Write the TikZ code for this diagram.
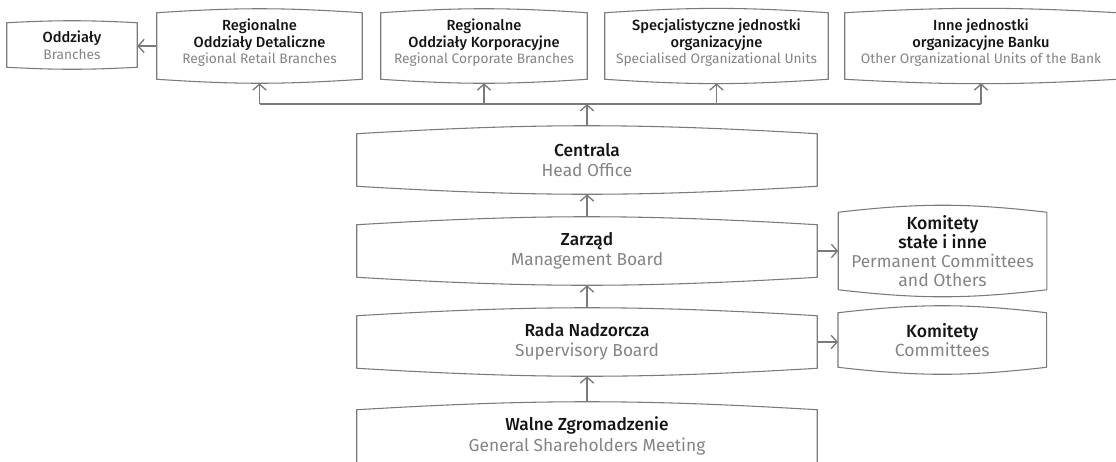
\documentclass[tikz,border=0pt]{standalone}
\usepackage{fontspec}
\setmainfont{Fira Sans Light}[BoldFont={Fira Sans Medium}]
\newfontfamily\regfont{Fira Sans}
\usetikzlibrary{arrows.meta,positioning}

\definecolor{linegray}{RGB}{122,122,122}
\definecolor{subgray}{RGB}{132,132,132}
\definecolor{titleblack}{RGB}{20,20,20}

\newlength{\pxu}
\setlength{\pxu}{0.75pt}

% box outline: straight sides, top and bottom bowed outwards
\newcommand{\bulgeoutline}[2][3.4]{%
  \draw[boxline] (#2.south west) -- (#2.north west) to[bend left=#1] (#2.north east)
    -- (#2.south east) to[bend left=#1] (#2.south west) -- cycle;}

\tikzset{
  boxline/.style={draw=linegray, line width=0.8pt, line join=round},
  conn/.style={draw=linegray, line width=1pt, -{Straight Barb[length=4.5pt, width=10pt]}},
  unit/.style={inner sep=0pt, align=center, text=titleblack},
  mainunit/.style={unit, minimum width=460\pxu, minimum height=52\pxu, font=\fontsize{13}{15.3}\selectfont},
  sideunit/.style={unit, minimum width=208\pxu, font=\fontsize{13.2}{14.4}\selectfont},
  topunit/.style={unit, minimum height=66\pxu, text depth=7pt, font=\fontsize{11}{12.6}\selectfont},
}

\newcommand{\en}[1]{{\regfont\color{subgray}#1}}
\newcommand{\ten}[1]{{\fontsize{10.3}{12.6}\selectfont\en{#1}}}

\begin{document}
\begin{tikzpicture}[x=0.75pt, y=-0.75pt]
  \useasboundingbox (0,0) rectangle (1116,461);

  % main column
  \node[mainunit] (walne) at (587,436) {\textbf{Walne Zgromadzenie}\\ \en{General Shareholders Meeting}};
  \node[mainunit] (rada) at (587,342) {\textbf{Rada Nadzorcza}\\ \en{Supervisory Board}};
  \node[mainunit] (zarzad) at (587,251) {\textbf{Zarząd}\\ \en{Management Board}};
  \node[mainunit] (centrala) at (587,160) {\textbf{Centrala}\\ \en{Head Office}};

  % committees on the right
  \node[sideunit, minimum height=77\pxu, right=21\pxu of zarzad] (komstale) {\textbf{Komitety}\\ \textbf{stałe i inne}\\ {\fontsize{12.9}{14.4}\selectfont\en{Permanent Committees}}\\ \en{and Others}};
  \node[sideunit, minimum height=54\pxu, anchor=west] (komitety) at (838,340) {\textbf{Komitety}\\ \en{Committees}};

  % top row
  \node[topunit, minimum width=130\pxu, minimum height=44\pxu, text depth=] (oddzialy) at (72,45) {\textbf{Oddziały}\\ \ten{Branches}};
  \node[topunit, minimum width=205\pxu] (retail) at (259.5,46) {\textbf{Regionalne}\\ \textbf{Oddziały Detaliczne}\\ \ten{Regional Retail Branches}};
  \node[topunit, minimum width=206\pxu] (corporate) at (484,46) {\textbf{Regionalne}\\ \textbf{Oddziały Korporacyjne}\\ \ten{Regional Corporate Branches}};
  \node[topunit, minimum width=223\pxu] (special) at (716.5,46) {\textbf{Specjalistyczne jednostki}\\ \textbf{organizacyjne}\\ \ten{Specialised Organizational Units}};
  \node[topunit, minimum width=272\pxu] (other) at (981,46) {\textbf{Inne jednostki}\\ \textbf{organizacyjne Banku}\\ \ten{Other Organizational Units of the Bank}};

  % outlines
  \bulgeoutline{rada}
  \bulgeoutline{zarzad}
  \bulgeoutline{centrala}
  \bulgeoutline[6.6]{komstale}
  \bulgeoutline[6.6]{komitety}
  \bulgeoutline[3]{oddzialy}
  \bulgeoutline[3.8]{retail}
  \bulgeoutline[3.8]{corporate}
  \bulgeoutline[3.8]{special}
  \bulgeoutline[3.2]{other}
  \draw[boxline] (walne.south west) -- (walne.north west) to[bend left=3.4] (walne.north east) -- (walne.south east);

  % connectors up the column
  \draw[conn] ([yshift=6pt]walne.north) -- ([yshift=-6pt]rada.south);
  \draw[conn] ([yshift=6pt]rada.north) -- ([yshift=-6pt]zarzad.south);
  \draw[conn] ([yshift=6pt]zarzad.north) -- ([yshift=-6pt]centrala.south);
  \draw[conn] (zarzad.east) -- (komstale.west);
  \draw[conn] (rada.east) -- (rada.east -| komitety.west);

  % bus to the top row
  \coordinate (bus) at (587,104);
  \draw[conn] ([yshift=6pt]centrala.north) -- (bus);
  \draw[boxline, line width=1pt] (retail.south |- bus) -- (other.south |- bus);
  \foreach \u in {retail,corporate,special,other}
    \draw[conn] (\u.south |- bus) -- ([yshift=-3pt]\u.south);
  \draw[conn] (retail.west) -- (retail.west -| oddzialy.east);
\end{tikzpicture}
\end{document}
